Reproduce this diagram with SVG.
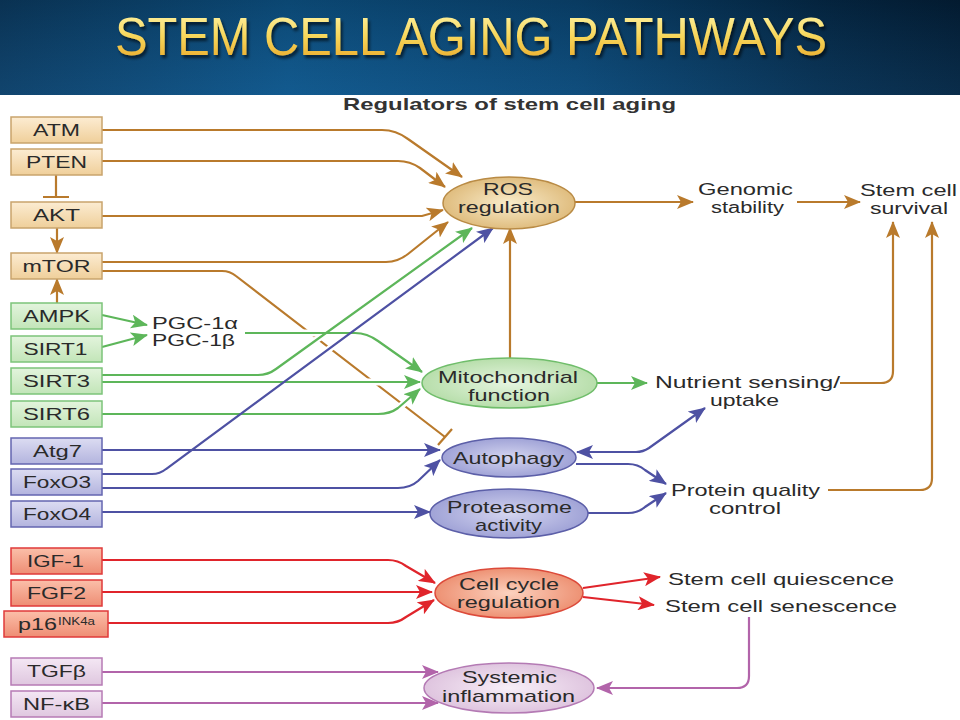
<svg xmlns="http://www.w3.org/2000/svg" width="960" height="720" viewBox="0 0 960 720">
<defs>
  <linearGradient id="band" x1="0" y1="0" x2="1" y2="0">
    <stop offset="0" stop-color="#0b3a60"/>
    <stop offset="0.3" stop-color="#0d5386"/>
    <stop offset="0.6" stop-color="#0a4572"/>
    <stop offset="0.85" stop-color="#052a49"/>
    <stop offset="1" stop-color="#031f38"/>
  </linearGradient>
  <linearGradient id="bandV" x1="0" y1="0" x2="0" y2="1">
    <stop offset="0" stop-color="#000" stop-opacity="0.15"/>
    <stop offset="1" stop-color="#3b8fd0" stop-opacity="0.12"/>
  </linearGradient>
  <linearGradient id="gold" x1="0" y1="0" x2="0" y2="1">
    <stop offset="0" stop-color="#fff7b0"/>
    <stop offset="0.5" stop-color="#f7d65a"/>
    <stop offset="1" stop-color="#e8a324"/>
  </linearGradient>
  <filter id="shadow" x="-5%" y="-20%" width="110%" height="150%">
    <feDropShadow dx="2" dy="3" stdDeviation="1.5" flood-color="#000" flood-opacity="0.6"/>
  </filter>
  <linearGradient id="gO" x1="0" y1="0" x2="0" y2="1"><stop offset="0" stop-color="#fcecd2"/><stop offset="1" stop-color="#efcf9a"/></linearGradient>
  <linearGradient id="gG" x1="0" y1="0" x2="0" y2="1"><stop offset="0" stop-color="#e3f4dd"/><stop offset="1" stop-color="#c2e5b8"/></linearGradient>
  <linearGradient id="gB" x1="0" y1="0" x2="0" y2="1"><stop offset="0" stop-color="#dcdcf2"/><stop offset="1" stop-color="#b3b4de"/></linearGradient>
  <linearGradient id="gR" x1="0" y1="0" x2="0" y2="1"><stop offset="0" stop-color="#fbbfa9"/><stop offset="1" stop-color="#ee8d74"/></linearGradient>
  <linearGradient id="gP" x1="0" y1="0" x2="0" y2="1"><stop offset="0" stop-color="#f4e7f4"/><stop offset="1" stop-color="#dfc7df"/></linearGradient>
  <radialGradient id="eO" cx="0.5" cy="0.5" r="0.55"><stop offset="0" stop-color="#f9eccb"/><stop offset="1" stop-color="#ddb877"/></radialGradient>
  <radialGradient id="eG" cx="0.5" cy="0.5" r="0.55"><stop offset="0" stop-color="#e6f5e0"/><stop offset="1" stop-color="#b3dca6"/></radialGradient>
  <radialGradient id="eB" cx="0.5" cy="0.5" r="0.55"><stop offset="0" stop-color="#d4d5f0"/><stop offset="1" stop-color="#9b9ed4"/></radialGradient>
  <radialGradient id="eR" cx="0.5" cy="0.5" r="0.55"><stop offset="0" stop-color="#fcd2bf"/><stop offset="1" stop-color="#ec8b6c"/></radialGradient>
  <radialGradient id="eP" cx="0.5" cy="0.5" r="0.55"><stop offset="0" stop-color="#f8eff8"/><stop offset="1" stop-color="#dcc0dc"/></radialGradient>
  <marker id="aO" markerUnits="userSpaceOnUse" markerWidth="18" markerHeight="14" refX="16" refY="7" orient="auto"><path d="M0,0 L17,7 L0,14 L4,7 z" fill="#b97a2c"/></marker>
  <marker id="aG" markerUnits="userSpaceOnUse" markerWidth="18" markerHeight="14" refX="16" refY="7" orient="auto"><path d="M0,0 L17,7 L0,14 L4,7 z" fill="#5db65a"/></marker>
  <marker id="aB" markerUnits="userSpaceOnUse" markerWidth="18" markerHeight="14" refX="16" refY="7" orient="auto-start-reverse"><path d="M0,0 L17,7 L0,14 L4,7 z" fill="#4e51a3"/></marker>
  <marker id="aR" markerUnits="userSpaceOnUse" markerWidth="18" markerHeight="14" refX="16" refY="7" orient="auto"><path d="M0,0 L17,7 L0,14 L4,7 z" fill="#e0242b"/></marker>
  <marker id="aP" markerUnits="userSpaceOnUse" markerWidth="18" markerHeight="14" refX="16" refY="7" orient="auto"><path d="M0,0 L17,7 L0,14 L4,7 z" fill="#b264aa"/></marker>
</defs>
<style>
  text { font-family: "Liberation Sans", Arial, sans-serif; fill: #2a2a2a; }
  .t { font-size: 17px; text-anchor: middle; }
  .l { font-size: 17px; }
  .s { font-size: 16px; }
  .bO { fill: url(#gO); stroke: #c9a46c; stroke-width: 1.5; }
  .bG { fill: url(#gG); stroke: #7cc47a; stroke-width: 1.5; }
  .bB { fill: url(#gB); stroke: #6466b0; stroke-width: 1.5; }
  .bR { fill: url(#gR); stroke: #e03a3a; stroke-width: 1.5; }
  .bP { fill: url(#gP); stroke: #b77bb5; stroke-width: 1.5; }
  .eO { fill: url(#eO); stroke: #b98b45; stroke-width: 1.5; }
  .eG { fill: url(#eG); stroke: #6fbd6a; stroke-width: 1.5; }
  .eB { fill: url(#eB); stroke: #5c5fa8; stroke-width: 1.5; }
  .eR { fill: url(#eR); stroke: #dc4a3a; stroke-width: 1.5; }
  .eP { fill: url(#eP); stroke: #b47ab4; stroke-width: 1.5; }
  .c { fill: none; stroke-width: 2.2; }
  .o { stroke: #b97a2c; }
  .g { stroke: #5db65a; }
  .b { stroke: #4e51a3; }
  .r { stroke: #e0242b; }
  .p { stroke: #b264aa; }
  .cas { fill: none; stroke: #fff; stroke-width: 7; }
  .mo { marker-end: url(#aO); }
  .mg { marker-end: url(#aG); }
  .mb { marker-end: url(#aB); }
  .mr { marker-end: url(#aR); }
  .mp { marker-end: url(#aP); }
</style>

<rect x="0" y="0" width="960" height="720" fill="#ffffff"/>
<g id="title">
  <rect x="0" y="0" width="960" height="95" fill="url(#band)"/>
  <rect x="0" y="0" width="960" height="95" fill="url(#bandV)"/>
  <text x="471" y="55" text-anchor="middle" font-family="'Open Sans', 'Liberation Sans', sans-serif" font-size="53" textLength="712" lengthAdjust="spacingAndGlyphs" style="fill:url(#gold)" filter="url(#shadow)">STEM CELL AGING PATHWAYS</text>
</g>
<text id="subtitle" x="509.5" y="110" text-anchor="middle" font-size="17" font-weight="bold" textLength="333" lengthAdjust="spacingAndGlyphs" style="fill:#333">Regulators of stem cell aging</text>

<g id="connectors">
  <!-- orange inhibitory mTOR -> Autophagy (drawn first; crossed lines sit on top) -->
  <path class="c o" d="M102,271 H222 Q230,271 236,276 L445,437"/>
  <path class="c o" d="M438,445 L452,429"/>
  <!-- white casings for lines crossing the inhibition line -->
  <path class="cas" d="M245,333 H355 Q367,333 378,341 L405,361"/>
  <path class="cas" d="M258,375 Q268,375 276,369 L420,265"/>
  <path class="cas" d="M300,382 H410"/>
  <path class="cas" d="M340,414 H378 Q390,414 398,408 L410,399"/>
  <path class="cas" d="M166,469 L450,260"/>

  <!-- orange -->
  <path class="c o mo" d="M102,130 H382 Q396,130 408,139 L462,177"/>
  <path class="c o mo" d="M102,161 H398 Q410,161 420,168 L445,187"/>
  <path class="c o mo" d="M102,216 H422 L443,210"/>
  <path class="c o mo" d="M102,262 H386 Q398,262 408,254 L448,222"/>
  <path class="c o mo" d="M57,228 V253"/>
  <path class="c o mo" d="M57,303 V279"/>
  <path class="c o" d="M56,175 V197 M43,197 H69"/>
  <path class="c o mo" d="M510,358 V228"/>
  <path class="c o mo" d="M575,202 H693"/>
  <path class="c o mo" d="M797,202 H860"/>
  <path class="c o mo" d="M840,383 H881 Q893,383 893,371 V222"/>
  <path class="c o mo" d="M828,490 H920 Q932,490 932,478 V222"/>

  <!-- green -->
  <path class="c g mg" d="M102,315 L147,325"/>
  <path class="c g mg" d="M102,347 L147,335"/>
  <path class="c g mg" d="M245,333 H355 Q367,333 378,341 L422,372"/>
  <path class="c g mg" d="M102,375 H258 Q268,375 276,369 L472,228"/>
  <path class="c g mg" d="M102,382 H420"/>
  <path class="c g mg" d="M102,414 H378 Q390,414 398,408 L420,389"/>
  <path class="c g mg" d="M597,383 H647"/>

  <!-- blue -->
  <path class="c b mb" d="M102,450 H440"/>
  <path class="c b mb" d="M102,474 H152 Q160,474 166,469 L493,228"/>
  <path class="c b mb" d="M102,488 H398 Q410,488 418,481 L440,460"/>
  <path class="c b mb" d="M102,512 H430"/>
  <path class="c b mb" d="M577,452 H636 Q643,452 649,448 L705,408" marker-start="url(#aB)"/>
  <path class="c b mb" d="M576,464 H628 Q638,464 645,470 L666,484"/>
  <path class="c b mb" d="M588,513 H628 Q638,513 645,507 L666,493"/>

  <!-- red -->
  <path class="c r mr" d="M102,560 H388 Q398,560 406,566 L435,583"/>
  <path class="c r mr" d="M102,592 H432"/>
  <path class="c r mr" d="M108,623 H388 Q398,623 406,617 L434,600"/>
  <path class="c r mr" d="M583,588 L660,577"/>
  <path class="c r mr" d="M583,597 L654,605"/>

  <!-- purple -->
  <path class="c p mp" d="M102,672 H438"/>
  <path class="c p mp" d="M102,703 H438"/>
  <path class="c p mp" d="M749,617 V676 Q749,688 737,688 H597"/>
</g>

<!-- left boxes -->
<g id="ATM"><rect class="bO" x="11" y="117" width="91" height="26"/><text class="t" x="56.5" y="136" textLength="47" lengthAdjust="spacingAndGlyphs">ATM</text></g>
<g id="PTEN"><rect class="bO" x="11" y="149" width="91" height="26"/><text class="t" x="56.5" y="168" textLength="61" lengthAdjust="spacingAndGlyphs">PTEN</text></g>
<g id="AKT"><rect class="bO" x="11" y="202" width="91" height="26"/><text class="t" x="56.5" y="221" textLength="47" lengthAdjust="spacingAndGlyphs">AKT</text></g>
<g id="mTOR"><rect class="bO" x="11" y="253" width="91" height="26"/><text class="t" x="56.5" y="272" textLength="68" lengthAdjust="spacingAndGlyphs">mTOR</text></g>
<g id="AMPK"><rect class="bG" x="11" y="303" width="91" height="26"/><text class="t" x="56.5" y="322" textLength="67" lengthAdjust="spacingAndGlyphs">AMPK</text></g>
<g id="SIRT1"><rect class="bG" x="11" y="336" width="91" height="26"/><text class="t" x="55.5" y="355" textLength="64" lengthAdjust="spacingAndGlyphs">SIRT1</text></g>
<g id="SIRT3"><rect class="bG" x="11" y="368" width="91" height="26"/><text class="t" x="56.5" y="387" textLength="67" lengthAdjust="spacingAndGlyphs">SIRT3</text></g>
<g id="SIRT6"><rect class="bG" x="11" y="401" width="91" height="26"/><text class="t" x="56.5" y="420" textLength="67" lengthAdjust="spacingAndGlyphs">SIRT6</text></g>
<g id="Atg7"><rect class="bB" x="11" y="438" width="91" height="26"/><text class="t" x="57.5" y="457" textLength="49" lengthAdjust="spacingAndGlyphs">Atg7</text></g>
<g id="FoxO3"><rect class="bB" x="11" y="469" width="91" height="26"/><text class="t" x="57" y="488" textLength="68" lengthAdjust="spacingAndGlyphs">FoxO3</text></g>
<g id="FoxO4"><rect class="bB" x="11" y="501" width="91" height="26"/><text class="t" x="57" y="520" textLength="68" lengthAdjust="spacingAndGlyphs">FoxO4</text></g>
<g id="IGF-1"><rect class="bR" x="11" y="548" width="91" height="26"/><text class="t" x="55.5" y="567" textLength="57" lengthAdjust="spacingAndGlyphs">IGF-1</text></g>
<g id="FGF2"><rect class="bR" x="11" y="580" width="91" height="26"/><text class="t" x="56.5" y="599" textLength="59" lengthAdjust="spacingAndGlyphs">FGF2</text></g>
<g id="p16INK4a"><rect class="bR" x="4" y="611" width="104" height="26"/><text class="l" x="18" y="630" textLength="39" lengthAdjust="spacingAndGlyphs">p16</text><text x="58" y="625" font-size="10" textLength="37" lengthAdjust="spacingAndGlyphs">INK4a</text></g>
<g id="TGFb"><rect class="bP" x="11" y="658" width="91" height="27"/><text class="t" x="56.5" y="677" textLength="59" lengthAdjust="spacingAndGlyphs">TGFβ</text></g>
<g id="NF-kB"><rect class="bP" x="11" y="691" width="91" height="26"/><text class="t" x="56.5" y="710" textLength="67" lengthAdjust="spacingAndGlyphs">NF-κB</text></g>

<g id="PGC-1"><text class="s" x="152" y="329" textLength="86" lengthAdjust="spacingAndGlyphs">PGC-1α</text><text class="s" x="152" y="346" textLength="83" lengthAdjust="spacingAndGlyphs">PGC-1β</text></g>

<!-- central ellipses -->
<g id="ROS"><ellipse class="eO" cx="509" cy="203" rx="66" ry="26"/><text class="t" x="508" y="195" textLength="50" lengthAdjust="spacingAndGlyphs">ROS</text><text class="t" x="509" y="213" textLength="102" lengthAdjust="spacingAndGlyphs">regulation</text></g>
<g id="Mito"><ellipse class="eG" cx="509.5" cy="383" rx="87.5" ry="25"/><text class="t" x="508" y="383" textLength="140" lengthAdjust="spacingAndGlyphs">Mitochondrial</text><text class="t" x="509" y="401" textLength="82" lengthAdjust="spacingAndGlyphs">function</text></g>
<g id="Autophagy"><ellipse class="eB" cx="509" cy="457.5" rx="67" ry="19.5"/><text class="t" x="508.5" y="464" textLength="111" lengthAdjust="spacingAndGlyphs">Autophagy</text></g>
<g id="Proteasome"><ellipse class="eB" cx="509" cy="513.5" rx="79" ry="24.5"/><text class="t" x="509.5" y="513" textLength="125" lengthAdjust="spacingAndGlyphs">Proteasome</text><text class="t" x="508.5" y="531" textLength="67" lengthAdjust="spacingAndGlyphs">activity</text></g>
<g id="CellCycle"><ellipse class="eR" cx="509" cy="593" rx="74" ry="25"/><text class="t" x="509" y="590" textLength="100" lengthAdjust="spacingAndGlyphs">Cell cycle</text><text class="t" x="508.5" y="608" textLength="103" lengthAdjust="spacingAndGlyphs">regulation</text></g>
<g id="Inflammation"><ellipse class="eP" cx="509" cy="688" rx="85" ry="25"/><text class="t" x="509.5" y="683" textLength="95" lengthAdjust="spacingAndGlyphs">Systemic</text><text class="t" x="508.5" y="702" textLength="133" lengthAdjust="spacingAndGlyphs">inflammation</text></g>

<!-- right outcomes -->
<g id="Genomic"><text class="t s" x="745.5" y="195" textLength="95" lengthAdjust="spacingAndGlyphs">Genomic</text><text class="t s" x="747.5" y="213" textLength="73" lengthAdjust="spacingAndGlyphs">stability</text></g>
<g id="Survival"><text class="t" x="908.5" y="196" textLength="97" lengthAdjust="spacingAndGlyphs">Stem cell</text><text class="t" x="909" y="214" textLength="78" lengthAdjust="spacingAndGlyphs">survival</text></g>
<g id="Nutrient"><text class="t" x="747.5" y="388" textLength="185" lengthAdjust="spacingAndGlyphs">Nutrient sensing/</text><text class="t" x="744.5" y="406" textLength="69" lengthAdjust="spacingAndGlyphs">uptake</text></g>
<g id="Protein"><text class="t" x="745.5" y="496" textLength="149" lengthAdjust="spacingAndGlyphs">Protein quality</text><text class="t" x="745" y="514" textLength="72" lengthAdjust="spacingAndGlyphs">control</text></g>
<g id="Quiescence"><text class="l" x="668" y="585" textLength="226" lengthAdjust="spacingAndGlyphs">Stem cell quiescence</text></g>
<g id="Senescence"><text class="l" x="665" y="612" textLength="232" lengthAdjust="spacingAndGlyphs">Stem cell senescence</text></g>
</svg>
